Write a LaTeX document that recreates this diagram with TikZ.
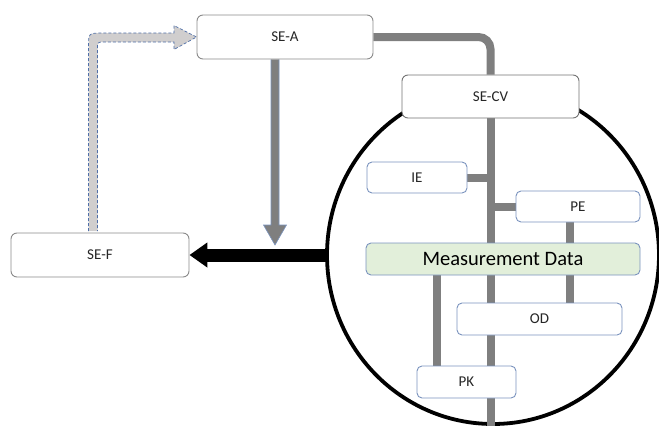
\documentclass[tikz,border=0pt]{standalone}
\usepackage{fontspec}
\setmainfont{Carlito}
\usetikzlibrary{shapes.geometric,arrows.meta,calc}
\definecolor{gline}{HTML}{7F7F7F}
\definecolor{sebd}{HTML}{8A8A8A}
\definecolor{subbd}{HTML}{7A93BE}
\definecolor{mdfill}{HTML}{E2EFDA}
\definecolor{fbfill}{HTML}{D0CECE}
\definecolor{fbdash}{HTML}{4F6FA8}
\definecolor{txt}{HTML}{262626}
\pgfdeclarelayer{bg}
\pgfsetlayers{bg,main}
\tikzset{
  sebox/.style={draw=sebd, line width=0.9pt, fill=white, rounded corners=6pt, inner sep=0pt, text=txt, font=\fontsize{15}{17}\selectfont},
  subbox/.style={draw=subbd, line width=0.9pt, fill=white, rounded corners=5pt, inner sep=0pt, text=txt, font=\fontsize{15}{17}\selectfont},
  conn/.style={draw=gline, line width=8pt},
}
\begin{document}
\begin{tikzpicture}[x=1pt,y=-1pt]
\useasboundingbox (0,0) rectangle (659,426);
% boxes
\node[sebox, minimum width=176pt, minimum height=44pt] (sea) at (285,37) {SE-A};
\node[sebox, draw=gray!90!black, minimum width=177pt, minimum height=43pt] (secv) at (490.5,96.5) {SE-CV};
\node[sebox, minimum width=178pt, minimum height=44pt] (sef) at (100,255) {SE-F};
\node[subbox, minimum width=100pt, minimum height=31pt] (ie) at (417,177.5) {IE};
\node[subbox, minimum width=124pt, minimum height=31pt] (pe) at (578,206.5) {PE};
\node[subbox, fill=mdfill, minimum width=274pt, minimum height=32pt, font=\fontsize{20.5}{23}\selectfont, text=black] (md) at (503,259) {Measurement Data};
\node[subbox, minimum width=165pt, minimum height=32pt] (od) at (539.5,319) {OD};
\node[subbox, minimum width=99pt, minimum height=32pt] (pk) at (466.5,382) {PK};
\coordinate (bottom) at (491,426);
\begin{pgfonlayer}{bg}
  % ring
  \node[ellipse, draw=black, line width=3.8pt, minimum width=332pt, minimum height=338pt, inner sep=0pt, outer sep=0pt] (ring) at (493,255) {};
  % trunk and connectors
  \draw[conn] (secv.south) -- (secv.south |- bottom);
  \draw[conn, rounded corners=12pt] (sea.east) -| (secv.north);
  \draw[conn] (ie.east) -- (ie.east -| secv.south);
  \draw[conn] (pe.west) -- (pe.west -| secv.south);
  \draw[conn] ([xshift=-8pt]pe.south) -- ([xshift=-8pt]pe.south |- od.north);
  \draw[conn] ([xshift=-29.5pt]pk.north) -- ([xshift=-29.5pt]pk.north |- md.south);
  % big black arrow
  \draw[line width=13pt, -{Triangle[length=18pt,width=24pt]}] (ring.west) -- (ring.west -| sef.east);
  % gray down arrow from SE-A
  \coordinate (a0) at ([xshift=-10pt]sea.south);
  \coordinate (atip) at (275,245);
  \filldraw[fill=gline, draw=subbd, line width=0.6pt]
    ($(a0)+(-4,0)$) -- ($(atip)+(-4,-20)$) -- ($(atip)+(-11.5,-20)$) -- (atip)
    -- ($(atip)+(11.5,-20)$) -- ($(atip)+(4,-20)$) -- ($(a0)+(4,0)$);
  % dashed feedback arrow from SE-F to SE-A
  \coordinate (ftip) at (sea.west);
  \filldraw[fill=fbfill, draw=fbdash, line width=0.7pt, dash pattern=on 3pt off 2pt]
    (88.5,231) -- (88.5,47) .. controls (88.5,33) .. (102.5,33) -- (174,33) -- (174,25.5)
    -- (ftip) -- (174,49.5) -- (174,42) -- (104.5,42) .. controls (97.5,42) .. (97.5,49)
    -- (97.5,231);
\end{pgfonlayer}
\end{tikzpicture}
\end{document}
